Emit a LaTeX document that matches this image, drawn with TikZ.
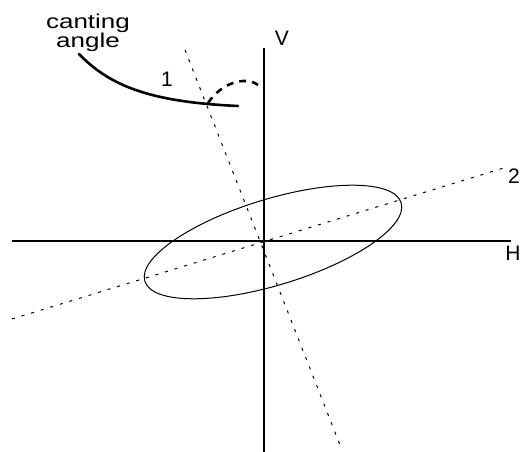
\documentclass[tikz,border=0pt]{standalone}
\usepackage{fontspec}
\setmainfont{Liberation Sans}
\usepackage{graphicx}
\begin{document}
\begin{tikzpicture}[x=1pt,y=1pt,
  axis/.style={line width=1.8pt},
  dotline/.style={line width=1pt,dash pattern=on 3pt off 7pt},
  lbl/.style={font=\fontsize{21}{21}\selectfont,inner sep=0pt},
  thickcurve/.style={line width=2.6pt,line cap=round}]
\useasboundingbox (0,0) rectangle (520,452);
% axes
\coordinate (vtop) at (264,404);
\coordinate (vbot) at (264,0);
\coordinate (hl) at (12,211);
\coordinate (hr) at (511,211);
\draw[axis] (vtop) -- (vbot);
\draw[axis] (hl) -- (hr);
% principal axes 1 and 2
\coordinate (a1) at (185,402);
\coordinate (b1) at (340,7);
\coordinate (a2) at (12,133);
\coordinate (b2) at (507,285);
\draw[dotline] (a1) -- (b1);
\draw[dotline] (a2) -- (b2);
% ellipse
\coordinate (c) at (273,210);
\draw[line width=1pt,rotate around={17:(c)}] (c) ellipse [x radius=134, y radius=43];
% canting angle pointer and arc
\coordinate (cs) at (79,398);
\coordinate (ce) at (238,346);
\draw[thickcurve] (cs) .. controls (110,366) and (150,350) .. (ce);
\coordinate (ds) at (208,349);
\coordinate (de) at (258,367);
\draw[line width=2.6pt,dash pattern=on 7pt off 6pt] (ds) .. controls (222,370) and (246,376) .. (de);
% labels
\node[inner sep=0pt,align=center,anchor=north,
      font={\fontsize{20}{19}\selectfont}] (t1) at (88,438)
  {\scalebox{1.3}[1]{canting}\\\scalebox{1.3}[1]{angle}};
\node[lbl] (l1) at (167,373) {1};
\node[lbl] (lV) at (282,414) {V};
\node[lbl] (l2) at (514,276) {2};
\node[lbl] (lH) at (513,199) {H};
\end{tikzpicture}
\end{document}
